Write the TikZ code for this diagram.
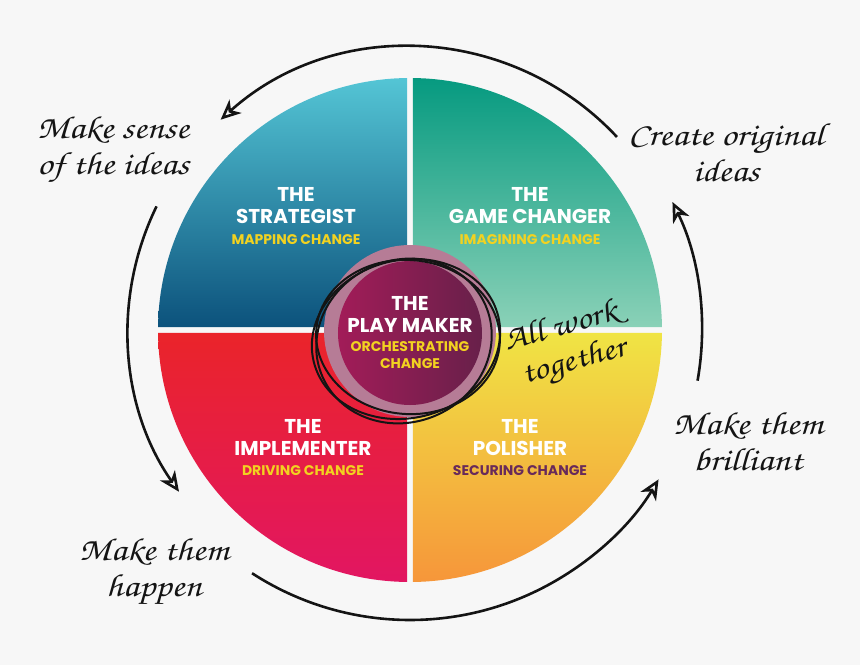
\documentclass[tikz,border=0pt]{standalone}
\usepackage[T1]{fontenc}
\usepackage{fontspec}
\setmainfont{Poppins}
\usepackage{xcolor}
\definecolor{paper}{RGB}{247,247,247}
\definecolor{ink}{RGB}{20,20,20}
\definecolor{stratTop}{RGB}{84,197,213}
\definecolor{stratBot}{RGB}{12,82,124}
\definecolor{gameTop}{RGB}{6,154,128}
\definecolor{gameBot}{RGB}{138,209,183}
\definecolor{implTop}{RGB}{234,36,42}
\definecolor{implBot}{RGB}{226,22,98}
\definecolor{polTop}{RGB}{240,228,68}
\definecolor{polBot}{RGB}{246,150,58}
\definecolor{ring}{RGB}{182,124,150}
\definecolor{playL}{RGB}{162,28,88}
\definecolor{playR}{RGB}{104,32,74}
\definecolor{gold}{RGB}{242,210,32}
\definecolor{plum}{RGB}{104,42,90}
\usepackage{tikz}
\usetikzlibrary{arrows.meta,positioning}

\newcommand\handfont{\fontencoding{T1}\fontfamily{pzc}\fontseries{mb}\fontshape{it}\selectfont}
\newcommand\motto{\fontsize{14}{15}\selectfont\color{gold}}

\tikzset{
  role/.style={text=white,font=\fontsize{20}{22}\selectfont\bfseries,align=center,inner sep=0pt},
  hand/.style={text=ink,font=\handfont\fontsize{32}{36}\selectfont,align=center,inner sep=0pt,
               xscale=1.18,transform shape},
  turnarc/.style={draw=ink,line width=2.6pt,-{Stealth[open,length=20pt,width=18pt,inset=6pt]}},
  scribble/.style={draw=ink,line width=2pt},
}

\begin{document}
\begin{tikzpicture}[x=1pt,y=1pt]
\fill[paper] (-410,-335) rectangle (450,330);
\useasboundingbox (-410,-335) rectangle (450,330);

% four quadrants
\shade[top color=stratTop,bottom color=stratBot]
  (-3,3) -- (179.32:252) arc[start angle=179.32,end angle=90.68,radius=252] -- cycle;
\shade[top color=gameTop,bottom color=gameBot]
  (3,3) -- (0.68:252) arc[start angle=0.68,end angle=89.32,radius=252] -- cycle;
\shade[top color=implTop,bottom color=implBot]
  (-3,-3) -- (180.68:252) arc[start angle=180.68,end angle=269.32,radius=252] -- cycle;
\shade[top color=polTop,bottom color=polBot]
  (3,-3) -- (-0.68:252) arc[start angle=-0.68,end angle=-89.32,radius=252] -- cycle;

% centre
\fill[ring] (0,-1) circle[radius=86];
\shade[left color=playL,right color=playR] (0,-3) circle[radius=72];
\draw[scribble,rotate around={14:(-4,-9)}] (-4,-9) ellipse[x radius=95,y radius=79];
\draw[scribble,rotate around={-5:(-2,-7)}] (-2,-7) ellipse[x radius=92,y radius=77];
\draw[scribble,rotate around={24:(-6,-11)}] (-6,-11) ellipse[x radius=89,y radius=81];

\node[role] (strat) at (-114,114) {THE\\STRATEGIST\\[-1pt]{\motto MAPPING CHANGE}};
\node[role] (game) at (120,114) {THE\\GAME CHANGER\\[-1pt]{\motto IMAGINING CHANGE}};
\node[role] (impl) at (-107,-118) {THE\\IMPLEMENTER\\[-2pt]{\motto DRIVING CHANGE}};
\node[role] (pol) at (110,-118) {THE\\POLISHER\\[-2pt]{\motto\color{plum}SECURING CHANGE}};
\node[role] (play) at (0,-3) {THE\\PLAY MAKER\\[-3pt]{\motto ORCHESTRATING}\\[-5pt]{\motto CHANGE}};

% handwritten notes
\node[hand] (sense) at (-297,180) {Make sense\\of the ideas};
\node[hand] (create) at (316,178) {Create original\\ideas};
\node[hand] (brill) at (338,-111) {Make them\\brilliant};
\node[hand] (happen) at (-256,-242) {Make them\\happen};
\node[hand,rotate=18] (together) at (158,-16) {All work\\together};

% cycle arrows
\draw[turnarc] (43:283) arc[start angle=43,end angle=132,radius=283];
\draw[turnarc] (154:282) arc[start angle=154,end angle=215,radius=282];
\draw[turnarc] (237:290) arc[start angle=237,end angle=329,radius=290];
\draw[turnarc] (-10:292) arc[start angle=-10,end angle=26,radius=292];
\end{tikzpicture}
\end{document}
